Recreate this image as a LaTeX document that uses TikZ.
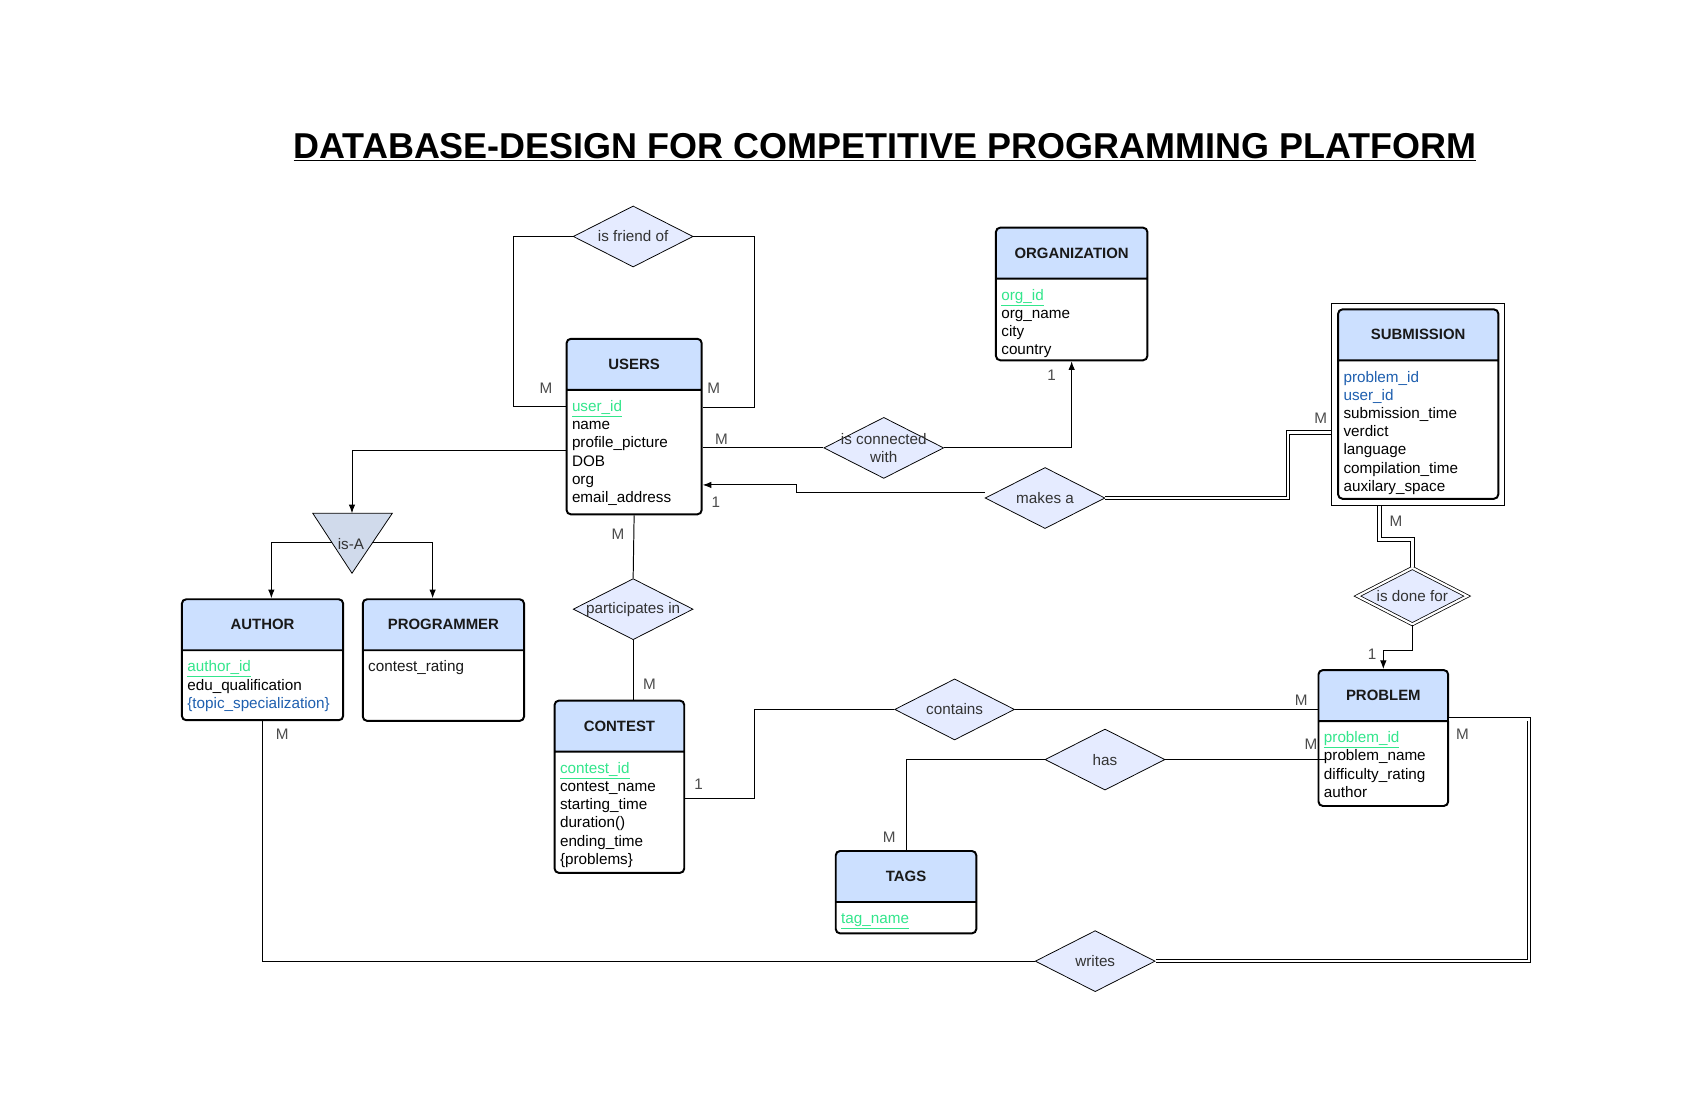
\documentclass[tikz,border=0pt]{standalone}
\usepackage{fontspec}
\setmainfont{Liberation Sans}
\usetikzlibrary{shapes,shapes.multipart,shapes.geometric,arrows.meta,fit}

\definecolor{headblue}{RGB}{204,224,255}
\definecolor{relfill}{RGB}{229,235,255}
\definecolor{isafill}{RGB}{208,218,235}
\definecolor{keygreen}{RGB}{51,230,140}
\definecolor{fkblue}{RGB}{30,95,175}

\tikzstyle{entity} = [rectangle split, rectangle split parts=2, draw, line width=1.8pt, rounded corners=4pt, rectangle split part fill={headblue,white}, rectangle split part align={center,left}, align=left, inner xsep=5pt, inner ysep=0pt, anchor=north west, text=black!90, font=\fontsize{14}{16.7}\selectfont]
\tikzstyle{relation} = [diamond, draw, line width=0.7pt, fill=relfill, minimum width=110pt, minimum height=56pt, inner sep=0pt, align=center, text=black!80, font=\fontsize{14}{17}\selectfont]
\tikzstyle{line} = [draw, line width=0.9pt]
\tikzstyle{arrowline} = [line, -{Latex[length=8pt,width=6pt]}]
\tikzstyle{dline} = [draw, double, double distance=2.4pt, line width=0.8pt]
\tikzstyle{card} = [inner sep=0pt, text=black!70, font=\fontsize{14}{16}\selectfont]
\tikzstyle{title} = [inner sep=0pt, font=\fontsize{33}{40}\selectfont\bfseries]

\newcommand{\enthead}[1]{{\bfseries\fontsize{13.7}{16}\selectfont\rule[-18pt]{0pt}{45pt}#1}}
\newcommand{\firstrow}{\rule{0pt}{19pt}}
\newcommand{\lastrow}[1]{\rule[-#1pt]{0pt}{0pt}}
\newcommand{\pkey}[1]{\textcolor{keygreen}{\underline{#1}}}
\newcommand{\fkey}[1]{\textcolor{fkblue}{#1}}
\newcommand{\reltxt}[1]{\makebox[0pt]{#1}}

\begin{document}
\begin{tikzpicture}[x=1pt, y=-1pt]
    \fill[white] (0,0) rectangle (1560,1009);
    \useasboundingbox (0,0) rectangle (1560,1009);

    \node [title] (title) at (812,135) {\underline{DATABASE-DESIGN FOR COMPETITIVE PROGRAMMING PLATFORM}};

    % entities
    \node [entity, minimum width=124pt] (users) at (519,310) {\enthead{USERS}\nodepart{two}\firstrow\pkey{user\_id}\\name\\profile\_picture\\DOB\\org\\email\_address\lastrow{10}};
    \node [entity, minimum width=139pt] (org) at (913,208) {\enthead{ORGANIZATION}\nodepart{two}\firstrow\pkey{org\_id}\\org\_name\\city\\country\lastrow{4}};
    \node [entity, minimum width=147pt] (sub) at (1227,283) {\enthead{SUBMISSION}\nodepart{two}\firstrow\fkey{problem\_id}\\\fkey{user\_id}\\submission\_time\\verdict\\language\\compilation\_time\\auxilary\_space\lastrow{6}};
    \node [draw, line width=0.7pt, fit=(sub), inner sep=5pt] (subouter) {};
    \node [entity, minimum width=148pt] (author) at (166,549) {\enthead{AUTHOR}\nodepart{two}\firstrow\pkey{author\_id}\\edu\_qualification\\\fkey{\{topic\_specialization\}}\lastrow{10}};
    \node [entity, minimum width=148pt] (prog) at (332,549) {\enthead{PROGRAMMER}\nodepart{two}\firstrow contest\_rating\lastrow{44}};
    \node [entity, minimum width=119pt] (contest) at (508,642) {\enthead{CONTEST}\nodepart{two}\firstrow\pkey{contest\_id}\\contest\_name\\starting\_time\\duration()\\ending\_time\\\{problems\}\lastrow{7}};
    \node [entity, minimum width=119pt] (problem) at (1209,614) {\enthead{PROBLEM}\nodepart{two}\firstrow\pkey{problem\_id}\\problem\_name\\difficulty\_rating\\author\lastrow{7}};
    \node [entity, minimum width=129pt] (tags) at (766,780) {\enthead{TAGS}\nodepart{two}\firstrow\pkey{tag\_name}\lastrow{8}};

    % is-A
    \coordinate (isAtop) at (323,471);
    \coordinate (isAleft) at (305,498);
    \coordinate (isAright) at (341,498);
    \draw [line width=0.7pt, fill=isafill] (287,471) -- (360,471) -- (323,526) -- cycle;
    \node [inner sep=0pt, text=black!80, font=\fontsize{14}{16}\selectfont] (isA) at (322,499) {is-A};

    % relations
    \node [relation] (friend) at (581,217) {\reltxt{is friend of}};
    \node [relation] (connected) at (811,411) {\reltxt{is connected}\\\reltxt{with}};
    \node [relation] (makes) at (959,457) {\reltxt{makes a}};
    \node [relation] (particip) at (581,559) {\reltxt{participates in}};
    \node [relation, double, double distance=2pt, minimum width=101pt, minimum height=52pt] (donefor) at (1296,547) {\reltxt{is done for}};
    \node [relation] (contains) at (876,651) {\reltxt{contains}};
    \node [relation] (has) at (1014,697) {\reltxt{has}};
    \node [relation] (writes) at (1005,882) {\reltxt{writes}};

    % connectors
    \path [line] (friend.west) -| (471,373) -- (users.west |- 471,373);
    \path [line] (friend.east) -| (692,374) -- (users.east |- 692,374);
    \path [arrowline] (users.west |- 0,413) -| (isAtop);
    \path [arrowline] (isAleft) -| (author.north -| 249,0);
    \path [arrowline] (isAright) -| (prog.north -| 397,0);
    \path [line] (users.east |- 0,411) -- (connected.west);
    \path [arrowline] (connected.east) -| (org.south);
    \path [arrowline] ([yshift=5pt]makes.west) -- (731,452) |- (users.east |- 0,445);
    \path [dline] (makes.east) -| (1182,397) -- (subouter.west |- 0,397);
    \path [dline] (subouter.south -| 1266,0) |- (1296,495) -- (donefor.north);
    \path [arrowline] (donefor.south) |- (problem.north |- 0,597) -- (problem.north);
    \path [line] (users.south) -- (particip.north);
    \path [line] (particip.south) -- (contest.north -| particip.south);
    \path [line] (contest.east |- 0,733) -- (692,733) |- (contains.west);
    \path [line] (contains.east) -- (problem.west |- contains.east);
    \path [line] (tags.north) |- (has.west);
    \path [line] (has.east) -- ([xshift=7pt]problem.west |- has.east);
    \path [line] (author.south) |- (writes.west);
    \path [dline] (writes.east) -| (1403,660) -- (problem.east |- 0,660);

    % cardinalities
    \node [card] (cfl) at (501,356) {M};
    \node [card] (cfr) at (655,356) {M};
    \node [card] (cuc) at (662,403) {M};
    \node [card] (coc) at (965,344) {1};
    \node [card] (cum) at (657,461) {1};
    \node [card] (csm) at (1212,384) {M};
    \node [card] (csd) at (1281,478) {M};
    \node [card] (cpd) at (1259,600) {1};
    \node [card] (cup) at (567,490) {M};
    \node [card] (ccp) at (596,628) {M};
    \node [card] (ccc) at (641,720) {1};
    \node [card] (cpc) at (1194,643) {M};
    \node [card] (cth) at (816,768) {M};
    \node [card] (cph) at (1203,683) {M};
    \node [card] (caw) at (259,674) {M};
    \node [card] (cpw) at (1342,674) {M};
\end{tikzpicture}
\end{document}
